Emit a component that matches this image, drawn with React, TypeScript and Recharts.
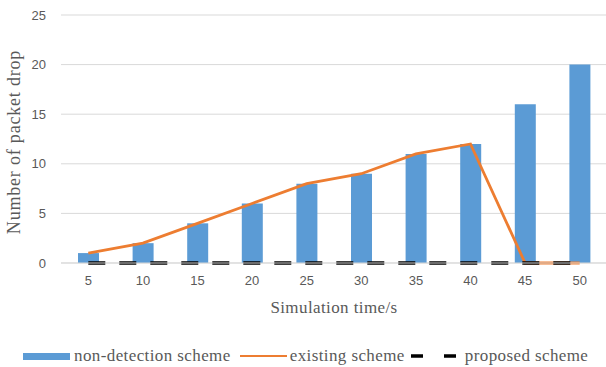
import { ComposedChart, Bar, Line, XAxis, YAxis, CartesianGrid, Label } from "recharts";

// simulation time (s) on the x axis
const times = ["5", "10", "15", "20", "25", "30", "35", "40", "45", "50"];
// packet drops for each scheme
const nonDetection = [1, 2, 4, 6, 8, 9, 11, 12, 16, 20];
const existing = [1, 2, 4, 6, 8, 9, 11, 12, 0, 0];
const proposed = [0, 0, 0, 0, 0, 0, 0, 0, 0, 0];
const yTicks = [0, 5, 10, 15, 20, 25];

const data = times.map((t, i) => ({
  time: t,
  nonDetection: nonDetection[i],
  existing: existing[i],
  proposed: proposed[i],
}));

const BLUE = "#5B9BD5";
const ORANGE = "#ED7D31";
const TEXT = "#595959";
const SERIF = "'Liberation Serif', 'Times New Roman', serif";
const SANS = "'Liberation Sans', Arial, sans-serif";

function ChartLegend() {
  const item = { display: "flex", alignItems: "center" } as const;
  return (
    <div
      style={{
        position: "absolute",
        top: 346,
        left: 23,
        height: 20,
        display: "flex",
        alignItems: "center",
        fontFamily: SERIF,
        fontSize: 17,
        letterSpacing: 0.4,
        lineHeight: "20px",
        color: TEXT,
        whiteSpace: "nowrap",
      }}
    >
      <div style={item}>
        <span style={{ width: 47, height: 7, background: BLUE, marginRight: 4 }} />
        <span>non-detection scheme</span>
      </div>
      <div style={{ ...item, marginLeft: 9 }}>
        <span style={{ width: 47, height: 2.5, background: ORANGE, marginRight: 3 }} />
        <span>existing scheme</span>
      </div>
      <div style={{ ...item, marginLeft: 6 }}>
        <svg width={50} height={8} style={{ marginRight: 4 }}>
          <line x1={0} y1={4} x2={50} y2={4} stroke="#000" strokeWidth={3.5} strokeDasharray="12 21" />
        </svg>
        <span>proposed scheme</span>
      </div>
    </div>
  );
}

export default function App() {
  return (
    <div
      style={{
        position: "absolute",
        top: 0,
        left: 0,
        width: 606,
        height: 367,
        overflow: "hidden",
        background: "#fff",
      }}
    >
      <ComposedChart
        width={608}
        height={367}
        data={data}
        margin={{ top: 15, right: 1, bottom: 74, left: 0 }}
      >
        <CartesianGrid vertical={false} stroke="#D9D9D9" />
        <XAxis
          dataKey="time"
          height={30}
          tickLine={false}
          axisLine={{ stroke: "#D9D9D9" }}
          tick={{ fill: TEXT, fontSize: 13, fontFamily: SANS }}
          tickMargin={7}
        >
          <Label
            value="Simulation time/s"
            position="bottom"
            offset={8}
            style={{ fill: TEXT, fontSize: 17, fontFamily: SERIF, letterSpacing: 0.4 }}
          />
        </XAxis>
        <YAxis
          width={61}
          domain={[0, 25]}
          ticks={yTicks}
          interval={0}
          tickLine={false}
          axisLine={false}
          tick={{ fill: TEXT, fontSize: 13, fontFamily: SANS }}
          tickMargin={9}
        >
          <Label
            value="Number of packet drop"
            angle={-90}
            position="center"
            dx={-17}
            dy={3}
            style={{ fill: TEXT, fontSize: 18, fontFamily: SERIF, textAnchor: "middle", letterSpacing: 0.8 }}
          />
        </YAxis>
        <Bar dataKey="nonDetection" fill={BLUE} barSize={21} isAnimationActive={false} />
        <Line
          type="linear"
          dataKey="existing"
          stroke={ORANGE}
          strokeWidth={2.8}
          dot={false}
          isAnimationActive={false}
        />
        <Line
          type="linear"
          dataKey="proposed"
          stroke="#000"
          strokeWidth={3.5}
          strokeDasharray="17 14"
          dot={false}
          isAnimationActive={false}
        />
      </ComposedChart>
      <ChartLegend />
    </div>
  );
}
